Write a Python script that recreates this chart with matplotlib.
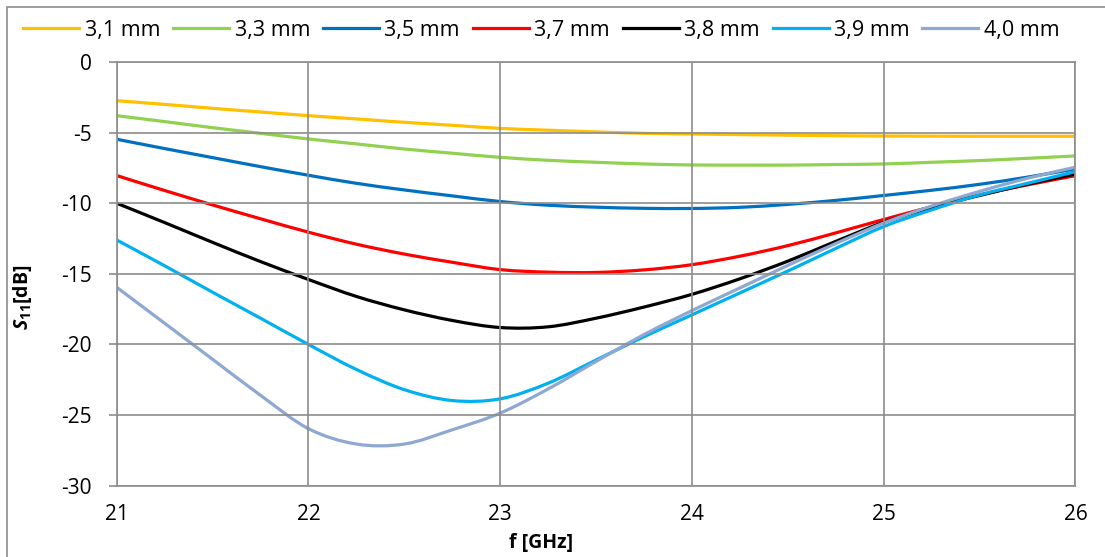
import numpy as np
from matplotlib import pyplot as plt
from matplotlib.patches import Rectangle, PathPatch
from matplotlib.path import Path
from matplotlib.lines import Line2D

#frequency points [GHz]
freq = [21.0, 21.25, 21.5, 21.75, 22.0, 22.25, 22.5, 22.75, 23.0, 23.25, 23.5,
        23.75, 24.0, 24.25, 24.5, 24.75, 25.0, 25.25, 25.5, 25.75, 26.0]

#S11 [dB], one list per size
s_31 = [-2.74, -3.0, -3.28, -3.54, -3.8, -4.03, -4.27, -4.48, -4.7, -4.83, -4.95,
        -5.05, -5.1, -5.14, -5.18, -5.22, -5.24, -5.25, -5.26, -5.26, -5.26]
s_33 = [-3.8, -4.22, -4.65, -5.05, -5.45, -5.8, -6.16, -6.46, -6.75, -6.96, -7.1,
        -7.22, -7.29, -7.3, -7.3, -7.26, -7.22, -7.1, -6.98, -6.82, -6.65]
s_35 = [-5.47, -6.13, -6.77, -7.41, -8.02, -8.59, -9.06, -9.48, -9.88, -10.14, -10.28,
        -10.36, -10.37, -10.29, -10.08, -9.8, -9.45, -9.08, -8.66, -8.15, -7.57]
s_37 = [-8.04, -9.1, -10.12, -11.1, -12.05, -12.9, -13.6, -14.18, -14.7, -14.88, -14.9,
        -14.72, -14.35, -13.75, -13.0, -12.1, -11.15, -10.25, -9.41, -8.7, -8.05]
s_38 = [-10.0, -11.37, -12.77, -14.13, -15.4, -16.6, -17.55, -18.3, -18.8, -18.75, -18.14,
        -17.35, -16.45, -15.35, -14.1, -12.7, -11.35, -10.3, -9.45, -8.65, -7.93]
s_39 = [-12.6, -14.43, -16.3, -18.14, -20.0, -21.77, -23.2, -23.97, -23.85, -22.74, -21.1,
        -19.45, -17.9, -16.35, -14.8, -13.2, -11.65, -10.47, -9.41, -8.59, -7.76]
s_40 = [-15.95, -18.5, -21.05, -23.6, -25.96, -27.05, -27.05, -26.04, -24.86, -23.15, -21.2,
        -19.3, -17.6, -16.0, -14.4, -12.85, -11.4, -10.2, -9.16, -8.23, -7.45]

labels = ["3,1 mm", "3,3 mm", "3,5 mm", "3,7 mm", "3,8 mm", "3,9 mm", "4,0 mm"]
colors = ["#FFC000", "#92D050", "#0070C0", "#FF0000", "#000000", "#00B0F0", "#8EA8D2"]
series = [s_31, s_33, s_35, s_37, s_38, s_39, s_40]

plt.rcParams['font.family'] = ['Open Sans', 'DejaVu Sans']
plt.rcParams['axes.unicode_minus'] = False
plt.rcParams['mathtext.fontset'] = 'custom'
plt.rcParams['mathtext.rm'] = 'Open Sans:bold'
plt.rcParams['mathtext.it'] = 'Open Sans:bold:italic'


#smoothed line like a spreadsheet chart: Catmull-Rom segments as cubic Bezier curves
def smooth_path(x, y):
    p = np.column_stack([x, y])
    verts = [p[0]]
    codes = [Path.MOVETO]
    for i in range(len(p) - 1):
        p0 = p[i - 1] if i > 0 else p[i]
        p3 = p[i + 2] if i + 2 < len(p) else p[i + 1]
        c1 = p[i] + (p[i + 1] - p0) / 6
        c2 = p[i + 1] - (p3 - p[i]) / 6
        verts += [c1, c2, p[i + 1]]
        codes += [Path.CURVE4] * 3
    return Path(verts, codes)


fig = plt.figure(figsize=(11.05, 5.57), dpi=100)
ax = fig.add_axes([0.1056, 0.128, 0.8677, 0.7607])

handles = []
for s, lab, c in zip(series, labels, colors):
    ax.add_patch(PathPatch(smooth_path(freq, s), facecolor='none', edgecolor=c, lw=2.3))
    handles.append(Line2D([], [], color=c, lw=2.3, label=lab))

ax.set_xlim(21, 26)
ax.set_ylim(-30, 0)
ax.set_xticks([21, 22, 23, 24, 25, 26])
ax.set_yticks([0, -5, -10, -15, -20, -25, -30])
ax.grid(True, color='#8c8c8c', lw=1.2)
for sp in ax.spines.values():
    sp.set_color('#8c8c8c')
    sp.set_linewidth(1.2)
ax.tick_params(axis='x', length=0, pad=13, labelsize=15)
ax.tick_params(axis='y', length=6, width=1.2, color='#8c8c8c', pad=12, labelsize=15)

ax.set_xlabel("f [GHz]", fontsize=14, fontweight='bold', va='top')
ax.xaxis.set_label_coords(0.4425, -0.112)
ax.set_ylabel(r"$S_{11}$[dB]", fontsize=14, fontweight='bold')
ax.yaxis.set_label_coords(-0.086, 0.445)

ax.legend(handles=handles, loc='center', bbox_to_anchor=(0.49, 0.946),
          bbox_transform=fig.transFigure, ncol=7, frameon=False, fontsize=15.5,
          handlelength=2.6, handletextpad=0.25, columnspacing=0.6, borderpad=0)

#chart border
fig.patches.append(Rectangle((7 / 1105, -0.1), 1.2, 1.1 - 7 / 557, transform=fig.transFigure,
                             fill=False, edgecolor='#8c8c8c', lw=1.2))

fig.savefig("out.png", dpi=100)
